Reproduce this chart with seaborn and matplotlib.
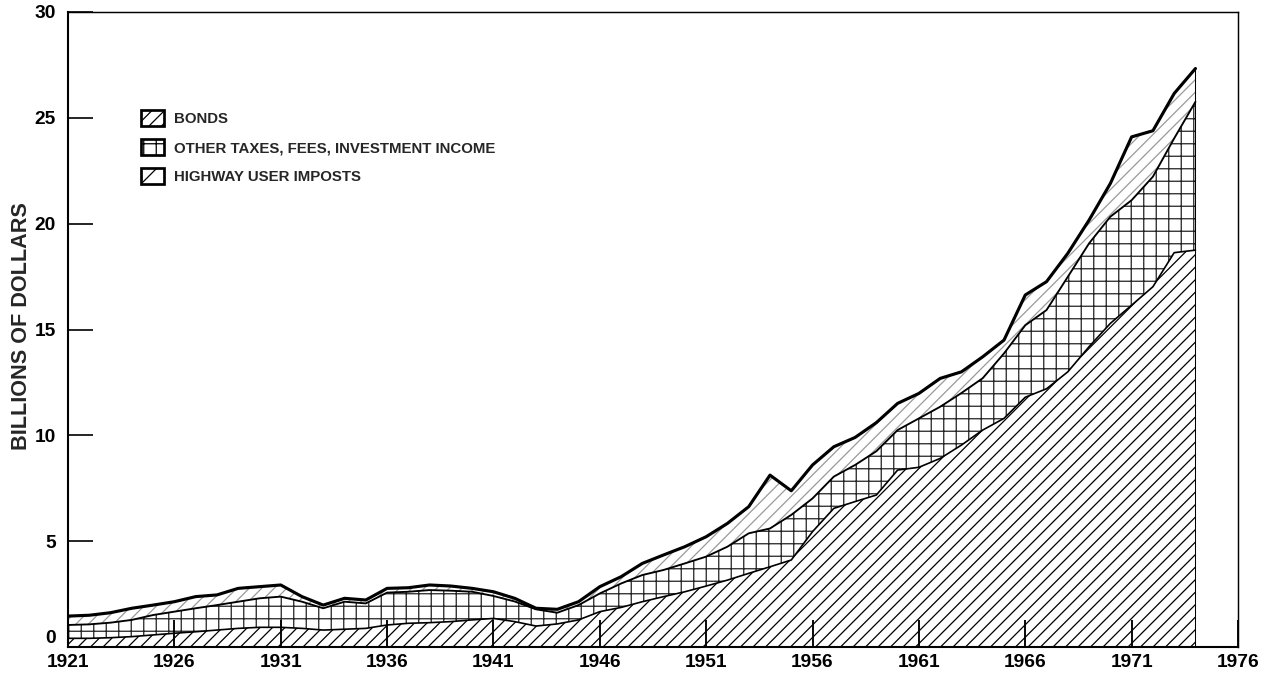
import pandas as pd
import matplotlib
matplotlib.use('Agg')
import matplotlib.pyplot as plt
from matplotlib.patches import Patch
import seaborn as sns

# Receipts for highways, billions of dollars
years = list(range(1921, 1975))
highway = [0.41, 0.41, 0.44, 0.49, 0.57, 0.65, 0.72, 0.80, 0.88, 0.93,
           0.93, 0.88, 0.80, 0.84, 0.88, 1.04, 1.12, 1.15, 1.20, 1.28,
           1.35, 1.20, 0.99, 1.09, 1.28, 1.67, 1.87, 2.14, 2.38, 2.61,
           2.88, 3.16, 3.48, 3.79, 4.11, 5.45, 6.55, 6.87, 7.18, 8.36,
           8.49, 8.91, 9.54, 10.25, 10.80, 11.80, 12.20, 13.00, 14.19, 15.29,
           16.15, 17.02, 18.63, 18.75]
other = [0.63, 0.66, 0.71, 0.79, 0.94, 1.02, 1.11, 1.18, 1.26, 1.37,
         1.45, 1.26, 1.03, 1.30, 1.18, 1.53, 1.49, 1.54, 1.46, 1.33,
         1.06, 0.95, 0.79, 0.53, 0.70, 0.86, 1.13, 1.26, 1.26, 1.34,
         1.39, 1.58, 1.89, 1.81, 2.13, 1.57, 1.50, 1.73, 2.07, 1.89,
         2.31, 2.44, 2.46, 2.45, 3.07, 3.40, 3.72, 4.49, 4.88, 5.04,
         4.96, 5.20, 5.40, 7.01]
bonds = [0.42, 0.43, 0.47, 0.55, 0.47, 0.47, 0.55, 0.48, 0.63, 0.55,
         0.55, 0.24, 0.15, 0.16, 0.16, 0.20, 0.19, 0.24, 0.22, 0.16,
         0.20, 0.15, 0.05, 0.16, 0.16, 0.32, 0.32, 0.55, 0.71, 0.79,
         0.94, 1.10, 1.26, 2.52, 1.14, 1.58, 1.41, 1.30, 1.35, 1.26,
         1.18, 1.34, 1.00, 1.01, 0.63, 1.43, 1.34, 1.11, 1.10, 1.57,
         2.99, 2.17, 2.12, 1.57]

labels = ['BONDS', 'OTHER TAXES, FEES, INVESTMENT INCOME', 'HIGHWAY USER IMPOSTS']
xticks = list(range(1921, 1977, 5))
yticks = list(range(0, 31, 5))

df = pd.DataFrame({'year': years, 'highway': highway, 'other': other, 'bonds': bonds})
df['mid'] = df['highway'] + df['other']
df['top'] = df['mid'] + df['bonds']

sns.set_theme(style='white')
plt.rcParams['font.family'] = ['Liberation Sans', 'DejaVu Sans']
plt.rcParams['font.weight'] = 'bold'
plt.rcParams['hatch.linewidth'] = 0.6

DPI = 150
fig = plt.figure(figsize=(1274 / DPI, 677 / DPI), dpi=DPI)
ax = fig.add_axes([68 / 1274, 1 - 647 / 677, 1170 / 1274, 635 / 677])

polys = ax.stackplot(df['year'], df['highway'], df['other'], df['bonds'],
                     colors=['white'] * 3, linewidth=0)
for poly, h, ec in zip(polys, ['////', '++', '////'], ['black', '#222222', '#9a9a9a']):
    poly.set_hatch(h)
    poly.set_edgecolor(ec)
    poly.set_linewidth(0)

sns.lineplot(data=df, x='year', y='highway', color='black', lw=0.8, ax=ax)
sns.lineplot(data=df, x='year', y='mid', color='black', lw=0.9, ax=ax)
sns.lineplot(data=df, x='year', y='top', color='black', lw=1.5, ax=ax)
ax.vlines(df['year'].iloc[-1], 0, df['top'].iloc[-1], color='black', lw=0.5)

ax.set_axisbelow(False)
ax.set_xlim(1921, 1976)
ax.set_ylim(0, 30)
ax.set_xticks(xticks)
ax.set_yticks(yticks)
ax.tick_params(axis='x', bottom=True, direction='in', length=13, width=0.9,
               pad=3.5, labelsize=9.2, colors='black')
ax.tick_params(axis='y', left=True, direction='in', length=12, width=0.8,
               pad=6, labelsize=9.2, colors='black')
for lab in ax.get_xticklabels() + ax.get_yticklabels():
    lab.set_fontweight('bold')
ax.get_yticklabels()[0].set_va('bottom')
ax.set_xlabel('')
ax.set_ylabel('BILLIONS OF DOLLARS', fontsize=10.4, fontweight='bold')
ax.yaxis.set_label_coords(-0.031, 0.505)
for side in ['left', 'bottom']:
    ax.spines[side].set_linewidth(1.0)
for side in ['top', 'right']:
    ax.spines[side].set_linewidth(0.7)
for s in ax.spines.values():
    s.set_color('black')

handles = [Patch(facecolor='white', edgecolor='black', hatch='////', lw=1.3),
           Patch(facecolor='white', edgecolor='black', hatch='++', lw=1.3),
           Patch(facecolor='white', edgecolor='black', hatch='//', lw=1.3)]
ax.legend(handles, labels, loc='upper left', bbox_to_anchor=(0.0624, 0.846),
          frameon=False, prop={'size': 7.2, 'weight': 'bold'},
          handlelength=1.5, handleheight=1.3, labelspacing=0.85,
          handletextpad=0.7, borderpad=0, borderaxespad=0)

fig.savefig('out.png', dpi=DPI)
